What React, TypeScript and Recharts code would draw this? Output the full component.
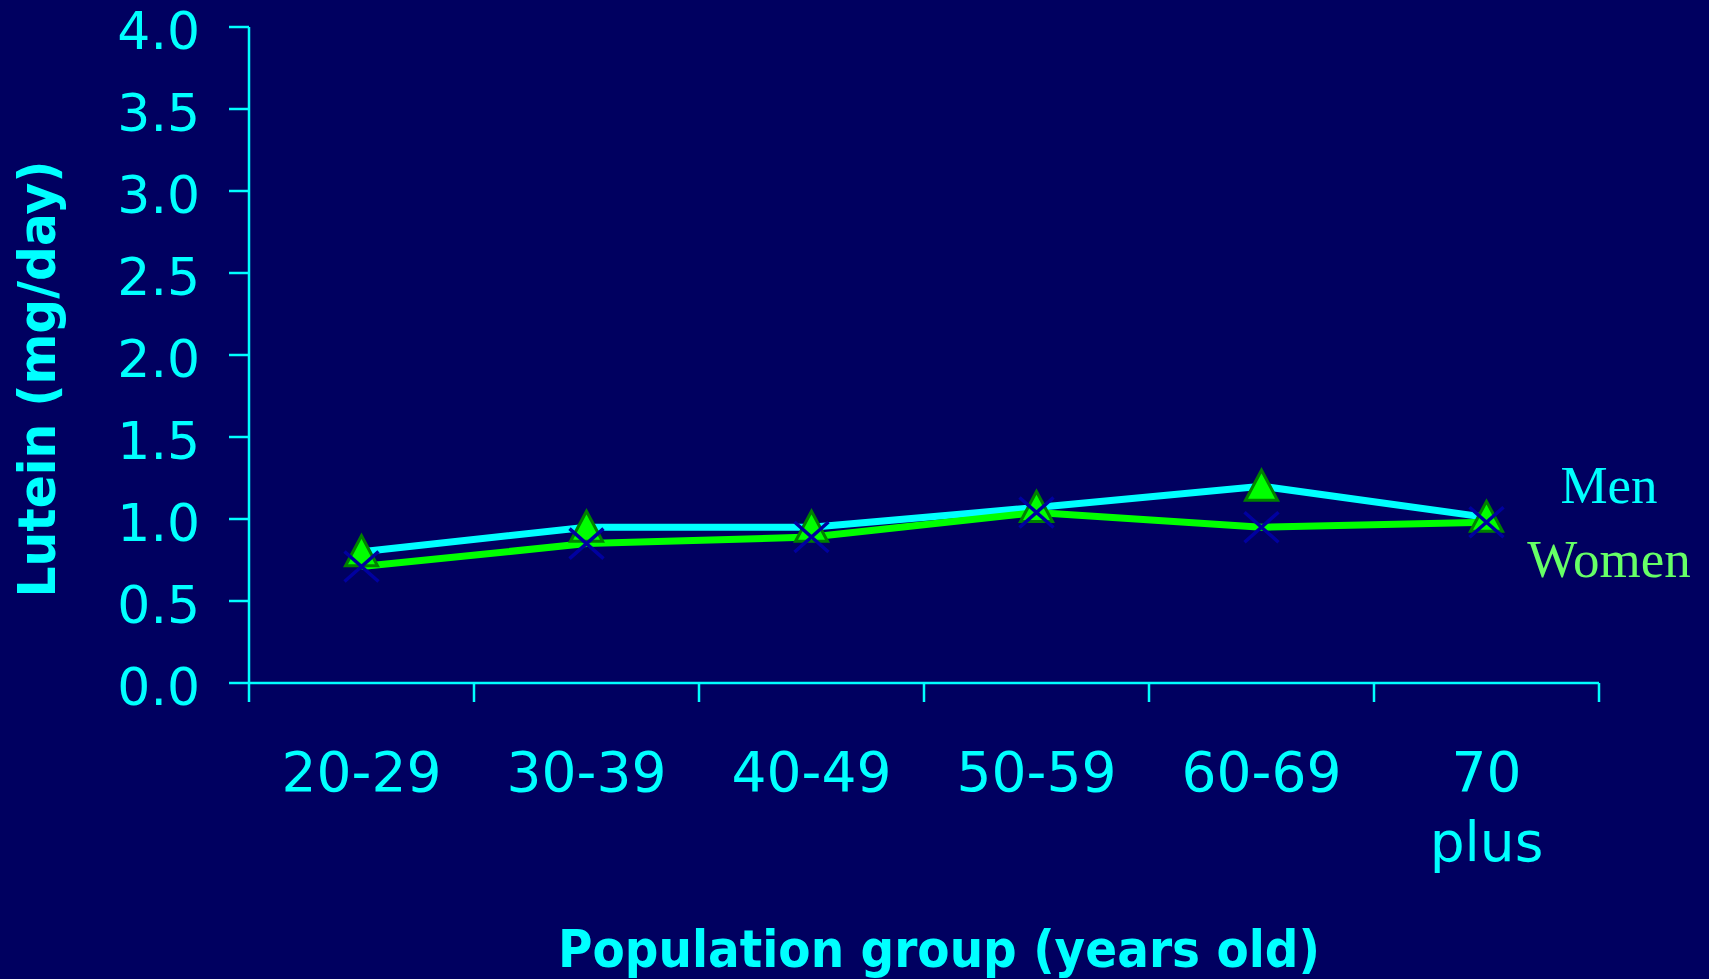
import React from 'react';
import { LineChart, Line, XAxis, YAxis, Label, Legend } from 'recharts';

// Lutein intake by age group
const groups = ['20-29', '30-39', '40-49', '50-59', '60-69', '70\nplus'];
const men = [0.8, 0.95, 0.95, 1.07, 1.2, 1.01];
const women = [0.71, 0.85, 0.89, 1.04, 0.95, 0.98];
const yTicks = [0, 0.5, 1, 1.5, 2, 2.5, 3, 3.5, 4];

const data = groups.map((g, i) => ({ pos: i + 0.5, group: g, men: men[i], women: women[i] }));
const edgeTicks = groups.map((_, i) => i).concat(groups.length);
const midTicks = data.map((d) => d.pos);

const BG = '#000060';
const CYAN = '#00ffff';
const SANS = 'DejaVu Sans, Verdana, sans-serif';

const Triangle = (p: any) => {
  const { cx, cy, index } = p;
  if (cx == null || cy == null) return <g key={index} />;
  return (
    <polygon
      key={index}
      points={`${cx},${cy - 16} ${cx + 16},${cy + 14} ${cx - 16},${cy + 14}`}
      fill="#00ff00"
      stroke="#008000"
      strokeWidth={3}
    />
  );
};

const Cross = (p: any) => {
  const { cx, cy, index } = p;
  if (cx == null || cy == null) return <g key={index} />;
  return (
    <path
      key={index}
      d={`M${cx - 17},${cy - 15}L${cx + 17},${cy + 15}M${cx - 17},${cy + 15}L${cx + 17},${cy - 15}`}
      stroke="#0000a0"
      strokeWidth={3.5}
      fill="none"
    />
  );
};

const ValueTick = (p: any) => {
  const { x, y, payload } = p;
  return (
    <text x={x} y={y} dy={22} textAnchor="end" fill={CYAN} fontSize={52} fontFamily={SANS}>
      {Number(payload.value).toFixed(1)}
    </text>
  );
};

const GroupTick = (p: any) => {
  const { x, y, payload } = p;
  const lines = groups[Math.floor(payload.value)].split('\n');
  return (
    <text x={x} y={y} textAnchor="middle" fill={CYAN} fontSize={55} fontFamily={SANS}>
      {lines.map((l, k) => (
        <tspan key={k} x={x} dy={k === 0 ? 88 : 70}>
          {l}
        </tspan>
      ))}
    </text>
  );
};

const YTitle = (p: any) => {
  const vb = p.viewBox;
  const cy = vb.y + vb.height / 2 + 24;
  return (
    <text
      x={55}
      y={cy}
      transform={`rotate(-90, 55, ${cy})`}
      textAnchor="middle"
      fill={CYAN}
      fontSize={52}
      fontWeight="bold"
      fontFamily={SANS}
      textLength={437}
      lengthAdjust="spacingAndGlyphs"
    >
      Lutein (mg/day)
    </text>
  );
};

const XTitle = (p: any) => {
  const vb = p.viewBox;
  return (
    <text
      x={vb.x + vb.width / 2 + 15}
      y={vb.y + 264}
      textAnchor="middle"
      fill={CYAN}
      fontSize={52}
      fontWeight="bold"
      fontFamily={SANS}
      textLength={762}
      lengthAdjust="spacingAndGlyphs"
    >
      Population group (years old)
    </text>
  );
};

const SeriesNames = () => (
  <div
    style={{
      width: 200,
      textAlign: 'center',
      fontFamily: 'Liberation Serif, Times New Roman, serif',
      fontSize: 53,
      lineHeight: '74px',
    }}
  >
    <div style={{ color: CYAN }}>Men</div>
    <div style={{ color: '#66ff66' }}>Women</div>
  </div>
);

export default function App() {
  return (
    <div style={{ position: 'absolute', left: 0, top: 0, width: 1709, height: 979, background: BG }}>
      <LineChart width={1709} height={979} data={data} margin={{ top: 27, right: 110, bottom: 96, left: 0 }}>
        <YAxis
          type="number"
          domain={[0, 4]}
          ticks={yTicks}
          interval={0}
          width={249}
          tickSize={20}
          tickMargin={29}
          axisLine={{ stroke: CYAN, strokeWidth: 2.5 }}
          tickLine={{ stroke: CYAN, strokeWidth: 2.5 }}
          tick={<ValueTick />}
        >
          <Label content={YTitle} />
        </YAxis>
        <XAxis
          xAxisId="edge"
          type="number"
          dataKey="pos"
          domain={[0, 6]}
          ticks={edgeTicks}
          interval={0}
          height={20}
          tickSize={19}
          axisLine={{ stroke: CYAN, strokeWidth: 2.5 }}
          tickLine={{ stroke: CYAN, strokeWidth: 2.5 }}
          tick={() => <g />}
        />
        <XAxis
          xAxisId="label"
          type="number"
          dataKey="pos"
          domain={[0, 6]}
          ticks={midTicks}
          interval={0}
          height={180}
          axisLine={false}
          tickLine={false}
          tickSize={0}
          tickMargin={0}
          tick={<GroupTick />}
        >
          <Label content={XTitle} />
        </XAxis>
        <Legend
          layout="vertical"
          align="center"
          verticalAlign="middle"
          wrapperStyle={{ left: 1509, top: 448, width: 200 }}
          content={() => <SeriesNames />}
        />
        <Line
          xAxisId="edge"
          type="linear"
          dataKey="men"
          stroke={CYAN}
          strokeWidth={7}
          dot={Triangle}
          activeDot={false}
          isAnimationActive={false}
        />
        <Line
          xAxisId="edge"
          type="linear"
          dataKey="women"
          stroke="#00ff00"
          strokeWidth={7}
          dot={Cross}
          activeDot={false}
          isAnimationActive={false}
        />
      </LineChart>
    </div>
  );
}
